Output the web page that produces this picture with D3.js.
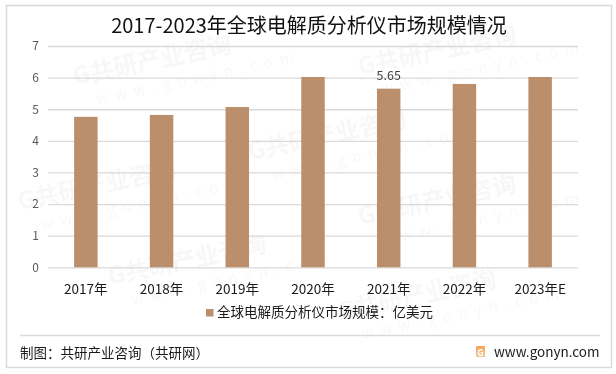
<!DOCTYPE html>
<html>
<head>
<meta charset="utf-8">
<script src="https://cdn.jsdelivr.net/npm/d3@7"></script>
<style>
  body { margin: 0; background: #fff; }
  text { font-family: "Noto Sans CJK SC", "Noto Sans", sans-serif; }
</style>
</head>
<body>
<div id="chart"></div>
<script>
// data
var years = ["2017年", "2018年", "2019年", "2020年", "2021年", "2022年", "2023年E"];
var values = [4.76, 4.82, 5.07, 6.02, 5.65, 5.80, 6.02];
var yTicks = [0, 1, 2, 3, 4, 5, 6, 7];
var labelled = ["2021年"];   // only this bar carries a value label
var seriesName = "全球电解质分析仪市场规模：亿美元";
var title = "2017-2023年全球电解质分析仪市场规模情况";

var W = 616, H = 374;
var margin = {top: 46, right: 38, bottom: 107, left: 48};
var width = W - margin.left - margin.right,
    height = H - margin.top - margin.bottom;

var svg = d3.select("#chart")
  .append("svg")
    .attr("width", W)
    .attr("height", H);

// faint watermark tiles (kept inside the frame)
var wm = svg.append("g").attr("fill", "#000").attr("opacity", 0.035);
var tiles = [[75, 85], [360, 75], [250, 160], [20, 210], [360, 225],
             [110, 285], [340, 320]];
tiles.forEach(function(t) {
  var g = wm.append("g")
    .attr("transform", "translate(" + t[0] + "," + t[1] + ") rotate(-12)");
  g.append("text")
    .attr("font-size", 24).attr("font-weight", "bold")
    .text("G共研产业咨询");
  g.append("text")
    .attr("y", 24).attr("x", 18)
    .attr("font-size", 15).attr("letter-spacing", 7)
    .text("www.gonyn.com");
});

// outer frame
svg.append("rect")
  .attr("x", 6.5).attr("y", 5.5)
  .attr("width", 605).attr("height", 362)
  .attr("fill", "none")
  .attr("stroke", "#d9d9d9")
  .attr("stroke-width", 1.5);

// title
svg.append("text")
  .attr("x", 309).attr("y", 33)
  .attr("text-anchor", "middle")
  .attr("font-size", 20)
  .attr("fill", "#111")
  .text(title);

var g = svg.append("g")
  .attr("transform", "translate(" + margin.left + "," + margin.top + ")");

var x = d3.scaleBand()
  .domain(years)
  .range([0, width])
  .paddingInner(0.69)
  .paddingOuter(0.345);

var y = d3.scaleLinear()
  .domain([0, 7])
  .range([height + 0.3, 0]);

// y axis with gridlines
var yAxis = g.append("g")
  .call(d3.axisLeft(y).tickValues(yTicks).tickSize(-width).tickPadding(9).tickFormat(d3.format("d")));
yAxis.select(".domain").remove();
yAxis.selectAll(".tick line").attr("stroke", "#d9d9d9").attr("stroke-width", 1.3);
yAxis.selectAll(".tick text")
  .attr("fill", "#595959")
  .attr("font-size", 12)
  .style("font-family", "'Noto Sans CJK SC', sans-serif");

// bars
g.selectAll(".bar")
  .data(values)
  .enter().append("rect")
    .attr("class", "bar")
    .attr("x", function(d, i) { return x(years[i]); })
    .attr("y", function(d) { return y(d); })
    .attr("width", x.bandwidth())
    .attr("height", function(d) { return y(0) - y(d); })
    .attr("fill", "#bb8f6c");

// value label
g.selectAll(".val")
  .data(values.filter(function(d, i) { return labelled.indexOf(years[i]) >= 0; }))
  .enter().append("text")
    .attr("class", "val")
    .attr("x", function(d) { var i = values.indexOf(d); return x(years[i]) + x.bandwidth() / 2; })
    .attr("y", function(d) { return y(d) - 9; })
    .attr("text-anchor", "middle")
    .attr("font-size", 12.5)
    .attr("fill", "#404040")
    .text(function(d) { return d.toFixed(2); });

// x axis labels
var xAxis = g.append("g")
  .attr("transform", "translate(0," + height + ")")
  .call(d3.axisBottom(x).tickSize(0).tickPadding(17));
xAxis.select(".domain").remove();
xAxis.selectAll(".tick text")
  .attr("fill", "#1a1a1a")
  .attr("font-size", 13.5)
  .style("font-family", "'Noto Sans CJK SC', sans-serif");

// legend
var leg = svg.append("g").attr("transform", "translate(206,309)");
leg.append("rect")
  .attr("width", 7.5).attr("height", 7.5)
  .attr("fill", "#bb8f6c");
leg.append("text")
  .attr("x", 11).attr("y", 8)
  .attr("font-size", 13.5)
  .attr("fill", "#1a1a1a")
  .text(seriesName);

// footer
svg.append("line")
  .attr("x1", 20).attr("x2", 600)
  .attr("y1", 335.5).attr("y2", 335.5)
  .attr("stroke", "#d9d9d9")
  .attr("stroke-width", 1.3);

svg.append("text")
  .attr("x", 20).attr("y", 358)
  .attr("font-size", 13.5)
  .attr("fill", "#1a1a1a")
  .text("制图：共研产业咨询（共研网）");

var grad = svg.append("defs").append("linearGradient")
  .attr("id", "logo").attr("x1", 0).attr("y1", 0).attr("x2", 0).attr("y2", 1);
grad.append("stop").attr("offset", "0%").attr("stop-color", "#f6a35a");
grad.append("stop").attr("offset", "100%").attr("stop-color", "#f2c49a");
svg.append("rect")
  .attr("x", 476).attr("y", 346)
  .attr("width", 9).attr("height", 11)
  .attr("rx", 1)
  .attr("fill", "url(#logo)");
svg.append("text")
  .attr("x", 480.5).attr("y", 355.5)
  .attr("text-anchor", "middle")
  .attr("font-size", 9).attr("font-weight", "bold")
  .attr("fill", "#fff")
  .text("G");

svg.append("text")
  .attr("x", 494).attr("y", 357)
  .attr("font-size", 13.5)
  .attr("fill", "#1a1a1a")
  .text("www.gonyn.com");
</script>
</body>
</html>
